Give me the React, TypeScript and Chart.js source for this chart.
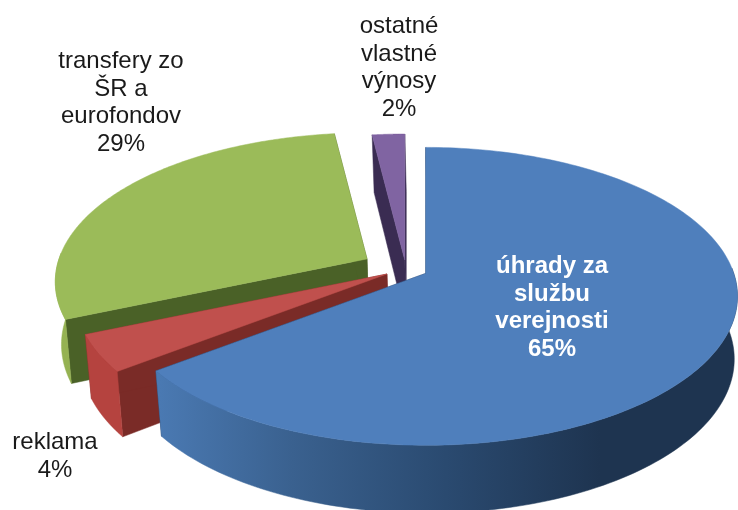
import React, { useEffect, useRef } from "react";
import { Chart, registerables } from "chart.js";

Chart.register(...registerables);

const categories = ["úhrady za službu verejnosti", "reklama", "transfery zo ŠR a eurofondov", "ostatné vlastné výnosy"];
const values = [64.6, 4, 29.45, 1.95];
const labelLines = [
  ["úhrady za", "službu", "verejnosti"],
  ["reklama"],
  ["transfery zo", "ŠR a", "eurofondov"],
  ["ostatné", "vlastné", "výnosy"],
];
const topColors = ["#4f7fbc", "#c0504d", "#9bbb59", "#8064a2"];
const wallColors = ["#3a6190", "#b5433f", "#95b252", "#6a5290"];
const cutColors = ["#1f3350", "#7a2b27", "#4a6127", "#3a2c52"];
const explode = [22, 22, 45, 20];
const labelAnchors = [
  [552, 273],
  [55, 449],
  [121, 68],
  [399, 33],
];
const labelColors = ["#ffffff", "#1a1a1a", "#1a1a1a", "#1a1a1a"];

const BASE_X = 406, BASE_Y = 269, PERSP = 0.154, KY = 145.4, RX = 308;
const DEPTH = 62, BOTTOM_SX = 0.985, BOTTOM_DX = 1.5, BOTTOM_SY = 1.034, YFLAT = 0.45;
const LINE_STEP = 27.6;

function project(u: number, v: number, ox: number, oy: number, bottom: boolean) {
  const w = 1 - PERSP * v;
  const x = (RX * u) / w;
  const y = (KY * v) / w;
  return bottom
    ? [ox + BOTTOM_DX + x * BOTTOM_SX, oy + DEPTH + y * BOTTOM_SY]
    : [ox + x, oy + y];
}

const pie3d = {
  id: "pie3d",
  beforeDatasetsDraw(chart: any) {
    const ctx = chart.ctx;
    const arcs = chart.getDatasetMeta(0).data;
    const rim = (a: any, ox: number, oy: number, bottom: boolean, front: boolean) => {
      const pts: number[][] = [];
      const n = 180;
      for (let i = 0; i <= n; i++) {
        const t = a.startAngle + ((a.endAngle - a.startAngle) * i) / n;
        if (front && Math.sin(t) < -0.05) continue;
        pts.push(project(Math.cos(t), Math.sin(t), ox, oy, bottom));
      }
      return pts;
    };
    const poly = (pts: number[][], fill: any) => {
      if (pts.length < 3) return;
      ctx.beginPath();
      pts.forEach((p, i) => (i ? ctx.lineTo(p[0], p[1]) : ctx.moveTo(p[0], p[1])));
      ctx.closePath();
      ctx.fillStyle = fill;
      ctx.strokeStyle = fill;
      ctx.lineWidth = 0.5;
      ctx.fill();
      ctx.stroke();
    };
    [3, 2, 1, 0].forEach((i) => {
      const a = arcs[i];
      const mid = (a.startAngle + a.endAngle) / 2;
      const off = a.options.offset;
      const ox = BASE_X + Math.cos(mid) * off;
      const oy = BASE_Y + Math.sin(mid) * off * YFLAT;
      const top = rim(a, ox, oy, false, false);
      const bot = rim(a, ox, oy, true, false);
      const apexT = [ox, oy];
      const apexB = project(0, 0, ox, oy, true);
      poly([apexT, top[0], bot[0], apexB], cutColors[i]);
      poly([apexT, top[top.length - 1], bot[bot.length - 1], apexB], cutColors[i]);
      let wall: any = wallColors[i];
      if (i === 0) {
        wall = ctx.createLinearGradient(160, 0, 600, 0);
        wall.addColorStop(0, "#4a79b2");
        wall.addColorStop(0.3, "#3a618f");
        wall.addColorStop(0.65, "#2a4a70");
        wall.addColorStop(1, "#1e3450");
      }
      const frontTop = rim(a, ox, oy, false, true);
      const frontBot = rim(a, ox, oy, true, true);
      poly([...frontTop, ...frontBot.slice().reverse()], wall);
      poly([apexT, ...top], topColors[i]);
    });
    return false;
  },
  afterDraw(chart: any) {
    const ctx = chart.ctx;
    ctx.save();
    ctx.textAlign = "center";
    ctx.textBaseline = "alphabetic";
    labelLines.forEach((lines, i) => {
      const all = [...lines, Math.round(values[i]) + "%"];
      ctx.fillStyle = labelColors[i];
      ctx.font = (i === 0 ? "bold " : "") + "24px 'Liberation Sans'";
      all.forEach((s, j) => {
        ctx.fillText(s, labelAnchors[i][0], labelAnchors[i][1] + j * LINE_STEP);
      });
    });
    ctx.restore();
  },
};

export default function App() {
  const ref = useRef<HTMLCanvasElement>(null);
  useEffect(() => {
    const chart = new Chart(ref.current!, {
      type: "pie",
      data: {
        labels: categories,
        datasets: [{ data: values, backgroundColor: topColors, offset: explode, borderWidth: 0 }],
      },
      options: {
        responsive: false,
        animation: false,
        plugins: { legend: { display: false }, tooltip: { enabled: false } },
      },
      plugins: [pie3d],
    } as any);
    return () => chart.destroy();
  }, []);
  return (
    <canvas
      ref={ref}
      width={738}
      height={510}
      style={{ position: "fixed", left: 0, top: 0, display: "block" }}
    />
  );
}
